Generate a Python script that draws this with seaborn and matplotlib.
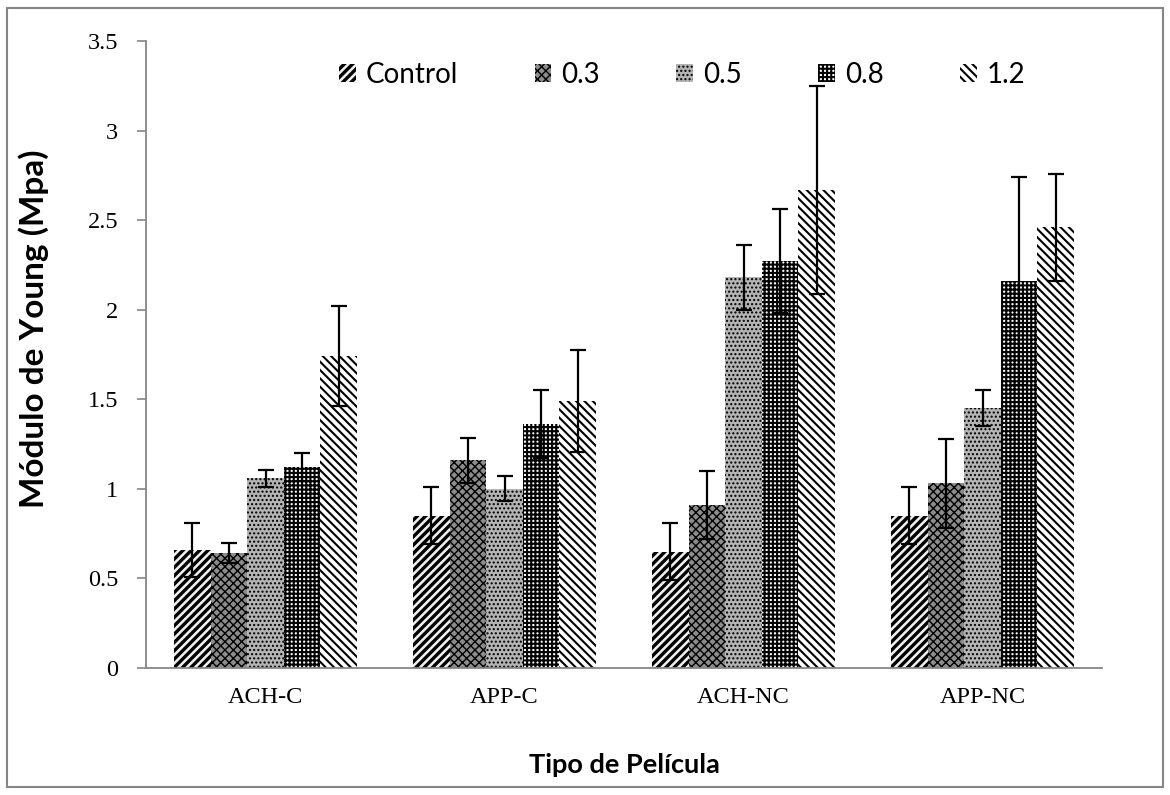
import matplotlib
matplotlib.use("Agg")
import matplotlib.pyplot as plt
import matplotlib.patches as mpatches
import seaborn as sns
import pandas as pd
import numpy as np

# ---- data ----
categories = ["ACH-C", "APP-C", "ACH-NC", "APP-NC"]
levels = ["Control", "0.3", "0.5", "0.8", "1.2"]
val_control = [0.66, 0.85, 0.65, 0.85]
val_03 = [0.64, 1.16, 0.91, 1.03]
val_05 = [1.06, 1.00, 2.18, 1.45]
val_08 = [1.12, 1.36, 2.27, 2.16]
val_12 = [1.74, 1.49, 2.67, 2.46]
err_control = [0.15, 0.16, 0.16, 0.16]
err_03 = [0.055, 0.125, 0.19, 0.25]
err_05 = [0.047, 0.07, 0.18, 0.10]
err_08 = [0.078, 0.19, 0.29, 0.58]
err_12 = [0.28, 0.287, 0.58, 0.30]
y_ticks = [0, 0.5, 1, 1.5, 2, 2.5, 3, 3.5]
y_tick_labels = ["0", "0.5", "1", "1.5", "2", "2.5", "3", "3.5"]

values = [val_control, val_03, val_05, val_08, val_12]
errors = [err_control, err_03, err_05, err_08, err_12]

rows = []
for lev, vals in zip(levels, values):
    for cat, v in zip(categories, vals):
        rows.append({"cat": cat, "level": lev, "val": v})
df = pd.DataFrame(rows)

# ---- styles ----
styles = {
    "Control": dict(face="#f0f0f0", hatch="////", hlw=2.4),
    "0.3": dict(face="#8c8c8c", hatch="xxxx", hlw=1.0),
    "0.5": dict(face="#b4b4b4", hatch="....", hlw=1.0),
    "0.8": dict(face="white", hatch="++++", hlw=1.5),
    "1.2": dict(face="white", hatch="\\\\\\\\", hlw=1.5),
}

sns.set_style("white")
plt.rcParams["hatch.linewidth"] = 1.5
plt.rcParams["text.color"] = "black"
plt.rcParams["axes.labelcolor"] = "black"
plt.rcParams["xtick.color"] = "black"
plt.rcParams["ytick.color"] = "black"
serif = ["Liberation Serif", "DejaVu Serif"]
sans = ["Lato", "Open Sans", "DejaVu Sans"]

fig = plt.figure(figsize=(11.70, 7.95), dpi=100)
ax = fig.add_axes([146 / 1170, 1 - 668 / 795, 956 / 1170, 627 / 795])

sns.barplot(data=df, x="cat", y="val", hue="level", order=categories,
            hue_order=levels, width=0.766, errorbar=None,
            palette=["white"] * 5, ax=ax, legend=False, saturation=1)

for lev, cont, errs in zip(levels, ax.containers, errors):
    st = styles[lev]
    xs, ys = [], []
    for bar in cont:
        bar.set_facecolor(st["face"])
        bar.set_edgecolor("black")
        bar.set_linewidth(0)
        bar.set_hatch(st["hatch"])
        if hasattr(bar, "set_hatch_linewidth"):
            bar.set_hatch_linewidth(st["hlw"])
        xs.append(bar.get_x() + bar.get_width() / 2)
        ys.append(bar.get_height())
    ax.errorbar(xs, ys, yerr=errs, fmt="none", ecolor="black",
                elinewidth=1.6, capsize=6, capthick=1.6, zorder=5)

ax.set_ylim(0, 3.5)
ax.set_xlim(-0.5, 3.5)
ax.set_yticks(y_ticks)
ax.set_yticklabels(y_tick_labels, fontfamily=serif, fontsize=17.5, color="black")
ax.set_xticks(range(len(categories)))
ax.set_xticklabels(categories, fontfamily=serif, fontsize=17.5, color="black")
ax.tick_params(axis="y", direction="out", length=6.5, width=1.2,
               color="#868686", labelcolor="black", pad=13.5, left=True)
ax.tick_params(axis="x", length=0, pad=14, labelcolor="black")

for s in ["top", "right"]:
    ax.spines[s].set_visible(False)
for s in ["left", "bottom"]:
    ax.spines[s].set_color("#868686")
    ax.spines[s].set_linewidth(1.3)

ax.set_ylabel("Módulo de Young (Mpa)", fontfamily=sans, fontweight="bold",
              fontsize=24, color="black")
ax.yaxis.set_label_coords(-0.101, 0.541)
ax.set_xlabel("Tipo de Película", fontfamily=sans, fontweight="bold",
              fontsize=19.5, color="black")
ax.xaxis.set_label_coords(0.5, -0.136)

handles = []
for lev in levels:
    st = styles[lev]
    h = mpatches.Patch(facecolor=st["face"], edgecolor="black", linewidth=0,
                       hatch=st["hatch"], label=lev)
    handles.append(h)
leg = ax.legend(handles=handles, loc="center", bbox_to_anchor=(0.561, 0.946),
                ncol=5, frameon=False, prop={"family": sans, "size": 20},
                handlelength=0.6, handleheight=0.65, handletextpad=0.36,
                columnspacing=2.75, labelcolor="black")
for h, lev in zip(leg.legend_handles, levels):
    if hasattr(h, "set_hatch_linewidth"):
        h.set_hatch_linewidth(styles[lev]["hlw"])

border = mpatches.Rectangle((7 / 1170, 1 - 787 / 795), 1156 / 1170, 779 / 795,
                            transform=fig.transFigure, fill=False,
                            edgecolor="#868686", linewidth=1.5)
fig.add_artist(border)

fig.savefig("out.png", dpi=100)
